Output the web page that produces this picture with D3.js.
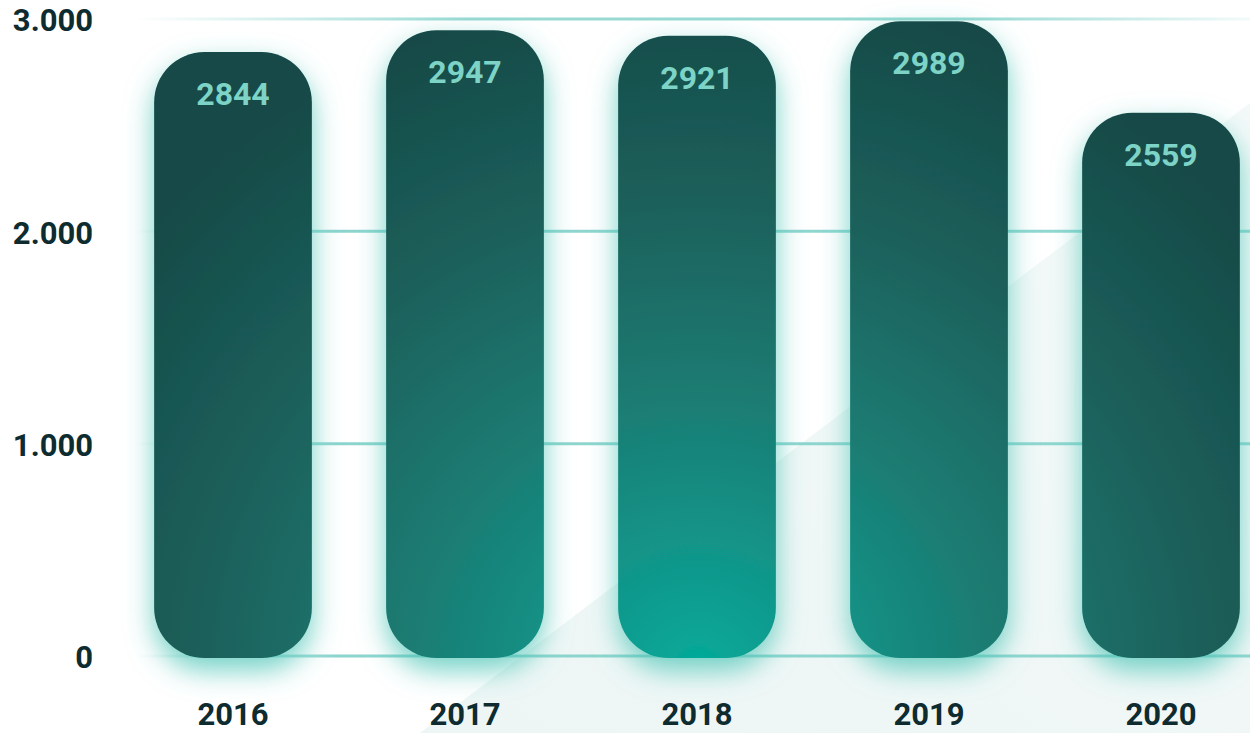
<!DOCTYPE html>
<html>
<head>
<meta charset="utf-8">
<script src="https://cdn.jsdelivr.net/npm/d3@7"></script>
<style>
  html, body { margin: 0; padding: 0; background: #fff; }
  svg { display: block; font-family: Roboto, "Noto Sans", sans-serif; }
</style>
</head>
<body>
<svg id="chart" width="1250" height="733"></svg>
<script>
// data
const years = ["2016", "2017", "2018", "2019", "2020"];
const values = [2844, 2947, 2921, 2989, 2559];
const yTicks = [0, 1000, 2000, 3000];
const yTickLabels = ["0", "1.000", "2.000", "3.000"];

const width = 1250, height = 733;
const margin = { top: 19, right: 9, bottom: 77, left: 155 };

const svg = d3.select("#chart");
const defs = svg.append("defs");

// scales
const x = d3.scaleBand()
    .domain(years)
    .range([margin.left - 38, width - margin.right + 36])
    .paddingInner(0.32)
    .paddingOuter(0.16);

const y = d3.scaleLinear()
    .domain([0, 3000])
    .range([height - margin.bottom, margin.top]);

// background diagonal shape
const bgGrad = defs.append("linearGradient")
    .attr("id", "bgGrad")
    .attr("x1", "0").attr("y1", "1").attr("x2", "1").attr("y2", "0");
bgGrad.append("stop").attr("offset", "0").attr("stop-color", "#edf6f5");
bgGrad.append("stop").attr("offset", "1").attr("stop-color", "#f3f9f8");

svg.append("path")
    .attr("d", "M420,733 L1250,103 L1250,733 Z")
    .attr("fill", "url(#bgGrad)");

// gridline gradients
const gridGrad = defs.append("linearGradient")
    .attr("id", "gridGrad")
    .attr("gradientUnits", "userSpaceOnUse")
    .attr("x1", 135).attr("x2", 1250).attr("y1", 0).attr("y2", 0);
gridGrad.append("stop").attr("offset", "0").attr("stop-color", "#7fd0c8").attr("stop-opacity", 0);
gridGrad.append("stop").attr("offset", "0.18").attr("stop-color", "#7fd0c8").attr("stop-opacity", 0.9);
gridGrad.append("stop").attr("offset", "1").attr("stop-color", "#7fd0c8").attr("stop-opacity", 0.85);

const topGrad = defs.append("linearGradient")
    .attr("id", "topGrad")
    .attr("gradientUnits", "userSpaceOnUse")
    .attr("x1", 135).attr("x2", 1250).attr("y1", 0).attr("y2", 0);
topGrad.append("stop").attr("offset", "0").attr("stop-color", "#7fd0c8").attr("stop-opacity", 0);
topGrad.append("stop").attr("offset", "0.3").attr("stop-color", "#7fd0c8").attr("stop-opacity", 0.8);
topGrad.append("stop").attr("offset", "0.75").attr("stop-color", "#7fd0c8").attr("stop-opacity", 0.8);
topGrad.append("stop").attr("offset", "1").attr("stop-color", "#7fd0c8").attr("stop-opacity", 0.1);

svg.append("g")
    .selectAll("line")
    .data(yTicks)
    .join("line")
    .attr("x1", 135)
    .attr("x2", width)
    .attr("y1", d => y(d))
    .attr("y2", d => y(d))
    .attr("stroke", d => d === 3000 ? "url(#topGrad)" : "url(#gridGrad)")
    .attr("stroke-width", 3);

// y axis labels
svg.append("g")
    .selectAll("text")
    .data(yTicks)
    .join("text")
    .attr("x", 93)
    .attr("y", d => y(d) + 4)
    .attr("text-anchor", "end")
    .attr("dominant-baseline", "middle")
    .attr("font-size", 31)
    .attr("font-weight", 700)
    .attr("fill", "#0e2b30")
    .text((d, i) => yTickLabels[i]);

// bar fill: one radial gradient over the whole plot
const barGrad = defs.append("radialGradient")
    .attr("id", "barGrad")
    .attr("gradientUnits", "userSpaceOnUse")
    .attr("cx", 698).attr("cy", 670)
    .attr("r", 720)
    .attr("gradientTransform", "translate(698,670) scale(1,0.95) translate(-698,-670)");
barGrad.append("stop").attr("offset", "0").attr("stop-color", "#03ab9a");
barGrad.append("stop").attr("offset", "0.12").attr("stop-color", "#0f9c8f");
barGrad.append("stop").attr("offset", "0.4").attr("stop-color", "#1b7c73");
barGrad.append("stop").attr("offset", "0.7").attr("stop-color", "#1b5f5a");
barGrad.append("stop").attr("offset", "1").attr("stop-color", "#164a47");

// glow under bars
const glow = defs.append("filter")
    .attr("id", "glow")
    .attr("x", "-30%").attr("y", "-20%")
    .attr("width", "160%").attr("height", "140%");
glow.append("feDropShadow")
    .attr("dx", 0).attr("dy", 12)
    .attr("stdDeviation", 14)
    .attr("flood-color", "#45c2b3")
    .attr("flood-opacity", 0.75);

const r = 50;
const bars = svg.append("g").selectAll("g")
    .data(values)
    .join("g");

bars.append("rect")
    .attr("x", (d, i) => x(years[i]))
    .attr("y", d => y(d))
    .attr("width", x.bandwidth())
    .attr("height", d => y(0) - y(d) + 2)
    .attr("rx", r)
    .attr("ry", r)
    .attr("fill", "url(#barGrad)")
    .attr("filter", "url(#glow)");

// value labels
bars.append("text")
    .attr("x", (d, i) => x(years[i]) + x.bandwidth() / 2)
    .attr("y", d => y(d) + 53)
    .attr("text-anchor", "middle")
    .attr("font-size", 32)
    .attr("font-weight", 700)
    .attr("fill", "#7dd3c6")
    .text(d => d);

// x axis labels
svg.append("g")
    .selectAll("text")
    .data(years)
    .join("text")
    .attr("x", d => x(d) + x.bandwidth() / 2)
    .attr("y", 725)
    .attr("text-anchor", "middle")
    .attr("font-size", 31)
    .attr("font-weight", 700)
    .attr("fill", "#0e2b30")
    .text(d => d);
</script>
</body>
</html>
